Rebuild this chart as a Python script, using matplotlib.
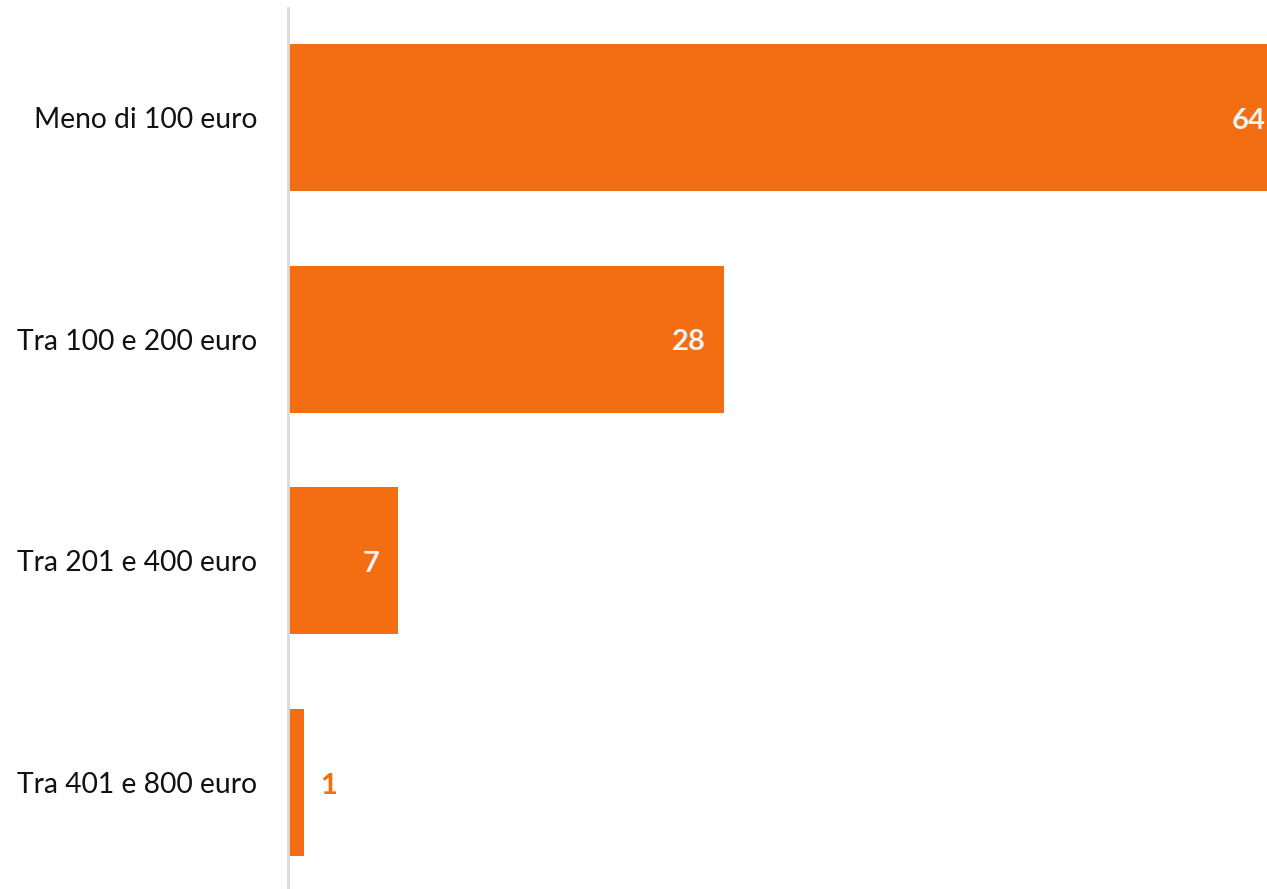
import matplotlib.pyplot as plt
from matplotlib.transforms import offset_copy

categories = ["Meno di 100 euro", "Tra 100 e 200 euro", "Tra 201 e 400 euro", "Tra 401 e 800 euro"]
values = [64, 28, 7, 1]

orange = "#F36D12"
plt.rcParams['font.family'] = ['Lato', 'DejaVu Sans']

fig = plt.figure(figsize=(12.67, 8.89), dpi=100)
ax = fig.add_axes([288 / 1267, 0, 1 - 288 / 1267, 881 / 889])

ypos = list(range(len(categories)))
ax.barh(ypos, values, height=0.663, color=orange, left=0.05)
ax.set_xlim(0, 63.0)
ax.set_ylim(3.48, -0.494)

ax.set_yticks(ypos)
ax.set_yticklabels(categories, fontsize=20.3, color="#111111")
ax.tick_params(axis='y', length=0, pad=22)
ax.set_xticks([])
for s in ["top", "right", "bottom"]:
    ax.spines[s].set_visible(False)
ax.spines["left"].set_color("#D9D9D9")
ax.spines["left"].set_linewidth(2)

for y, v in zip(ypos, values):
    if v > 3:
        tr = offset_copy(ax.transData, fig=fig, x=-17, y=-3, units='dots')
        ax.text(v, y, str(v), transform=tr, ha='right', va='center',
                fontsize=21, fontweight='bold', color="#F2F2F2", clip_on=False)
    else:
        tr = offset_copy(ax.transData, fig=fig, x=17, y=-3, units='dots')
        ax.text(v, y, str(v), transform=tr, ha='left', va='center',
                fontsize=21, fontweight='bold', color=orange)

fig.savefig("out.png", dpi=100)
